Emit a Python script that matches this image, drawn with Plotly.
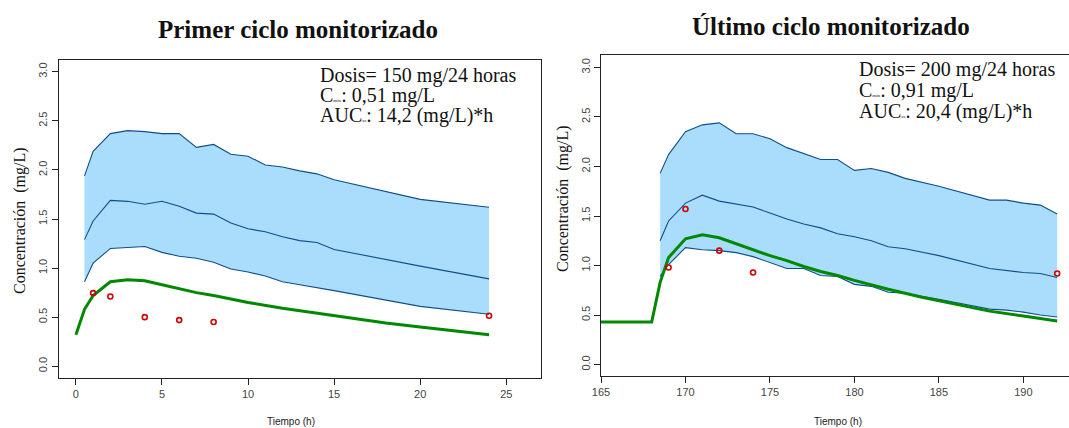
import plotly.graph_objects as go

# ---------------- data: first cycle ----------------
t1_band = [0.5, 1, 2, 3, 4, 5, 6, 7, 8, 9, 10, 11, 12, 13, 14, 15, 20, 24]
p1_upper = [1.94, 2.19, 2.37, 2.40, 2.39, 2.37, 2.37, 2.23, 2.26, 2.16, 2.14, 2.05, 2.03, 1.99, 1.96, 1.90, 1.70, 1.62]
p1_median = [1.29, 1.48, 1.69, 1.68, 1.65, 1.68, 1.63, 1.56, 1.55, 1.46, 1.40, 1.37, 1.32, 1.28, 1.26, 1.19, 1.02, 0.89]
p1_lower = [0.86, 1.05, 1.20, 1.21, 1.22, 1.16, 1.12, 1.10, 1.06, 0.99, 0.96, 0.92, 0.86, 0.83, 0.80, 0.77, 0.61, 0.53]
t1_pred = [0, 0.5, 1, 2, 3, 4, 5, 6, 7, 8, 10, 12, 14, 16, 18, 20, 22, 24]
p1_pred = [0.32, 0.58, 0.72, 0.86, 0.88, 0.87, 0.83, 0.79, 0.75, 0.72, 0.65, 0.59, 0.54, 0.49, 0.44, 0.40, 0.36, 0.32]
t1_obs = [1, 2, 4, 6, 8, 24]
c1_obs = [0.745, 0.71, 0.50, 0.47, 0.45, 0.515]
txt1 = ["Dosis= 150 mg/24 horas", "0,51 mg/L", "14,2 (mg/L)*h"]

# ---------------- data: last cycle ----------------
t2_band = [168.5, 169, 170, 171, 172, 173, 174, 175, 176, 177, 178, 179, 180, 181, 182, 183, 185, 188, 189, 190, 191, 192]
p2_upper = [1.93, 2.12, 2.35, 2.42, 2.44, 2.33, 2.33, 2.28, 2.19, 2.13, 2.07, 2.07, 1.96, 1.98, 1.94, 1.88, 1.80, 1.66, 1.66, 1.63, 1.61, 1.52]
p2_median = [1.25, 1.45, 1.63, 1.71, 1.65, 1.62, 1.59, 1.53, 1.47, 1.42, 1.38, 1.32, 1.29, 1.25, 1.19, 1.17, 1.10, 0.97, 0.95, 0.93, 0.92, 0.88]
p2_lower = [0.89, 1.01, 1.18, 1.16, 1.15, 1.13, 1.09, 1.03, 0.97, 0.97, 0.90, 0.89, 0.81, 0.79, 0.73, 0.72, 0.66, 0.56, 0.55, 0.53, 0.50, 0.48]
t2_pred = [165, 168, 168.5, 169, 170, 171, 172, 173, 174, 175, 176, 177, 178, 179, 180, 182, 184, 186, 188, 190, 192]
p2_pred = [0.43, 0.43, 0.83, 1.08, 1.27, 1.31, 1.28, 1.22, 1.16, 1.10, 1.05, 0.99, 0.94, 0.90, 0.85, 0.76, 0.68, 0.61, 0.54, 0.49, 0.44]
t2_obs = [169, 170, 172, 174, 192]
c2_obs = [0.98, 1.57, 1.15, 0.93, 0.92]
txt2 = ["Dosis= 200 mg/24 horas", "0,91 mg/L", "20,4 (mg/L)*h"]

titles = ["Primer ciclo monitorizado", "Último ciclo monitorizado"]
y_ticks = [0.0, 0.5, 1.0, 1.5, 2.0, 2.5, 3.0]
x1_ticks = [0, 5, 10, 15, 20, 25]
x2_ticks = [165, 170, 175, 180, 185, 190]

FILL = "#a9ddfb"
BLUE = "#104e8b"
GREEN = "#008800"
RED = "#d00000"
SERIF = "Liberation Serif, Times New Roman, serif"
SANS = "Liberation Sans, Arial, sans-serif"
W, H = 1069, 428

fig = go.Figure()


def add_panel(xa, ya, tb, up, med, lo, tp, pp, to, co):
    fig.add_trace(go.Scatter(x=tb, y=lo, mode="lines", line=dict(width=0, color=FILL),
                             showlegend=False, hoverinfo="skip", xaxis=xa, yaxis=ya))
    fig.add_trace(go.Scatter(x=tb, y=up, mode="lines", line=dict(width=0, color=FILL),
                             fill="tonexty", fillcolor=FILL, showlegend=False,
                             hoverinfo="skip", xaxis=xa, yaxis=ya))
    for s in (up, med, lo):
        fig.add_trace(go.Scatter(x=tb, y=s, mode="lines", line=dict(width=1.1, color=BLUE),
                                 showlegend=False, xaxis=xa, yaxis=ya))
    fig.add_trace(go.Scatter(x=tp, y=pp, mode="lines", line=dict(width=3, color=GREEN),
                             showlegend=False, xaxis=xa, yaxis=ya))
    fig.add_trace(go.Scatter(x=to, y=co, mode="markers",
                             marker=dict(symbol="circle-open", size=5, color=RED,
                                         line=dict(width=1.6, color=RED)),
                             showlegend=False, xaxis=xa, yaxis=ya))


add_panel("x", "y", t1_band, p1_upper, p1_median, p1_lower, t1_pred, p1_pred, t1_obs, c1_obs)
add_panel("x2", "y2", t2_band, p2_upper, p2_median, p2_lower, t2_pred, p2_pred, t2_obs, c2_obs)

axcommon = dict(showgrid=False, zeroline=False, showline=True, linecolor="#222", linewidth=1,
                ticks="outside", ticklen=6, tickwidth=1, tickcolor="#222", automargin=False,
                tickfont=dict(family=SANS, size=11, color="#444"))


def px(x):
    return x / W


def py(y):
    return 1 - y / H


fig.update_layout(
    width=W, height=H, margin=dict(l=0, r=0, t=0, b=0, autoexpand=False),
    paper_bgcolor="white", plot_bgcolor="white",
    xaxis=dict(domain=[px(58.7), px(540.7)], range=[-1, 27], tickvals=x1_ticks,
               mirror=True, anchor="y", **axcommon),
    yaxis=dict(domain=[py(378), py(60)], range=[-0.12, 3.12], tickvals=y_ticks,
               ticktext=[f"{v:.1f}" for v in y_ticks], tickangle=-90,
               mirror=True, anchor="x", **axcommon),
    xaxis2=dict(domain=[px(601), 1.0], range=[165, 192.7], tickvals=x2_ticks,
                mirror=True, anchor="y2", **axcommon),
    yaxis2=dict(domain=[py(376), py(55)], range=[-0.115, 3.125], tickvals=y_ticks,
                ticktext=[f"{v:.1f}" for v in y_ticks], tickangle=-90,
                anchor="x2", **axcommon),
)

ann = []


def add_text(text, x, y, font, xanchor="center", textangle=0):
    ann.append(dict(text=text, x=px(x), y=py(y), xref="paper", yref="paper",
                    xanchor=xanchor, yanchor="middle", showarrow=False,
                    textangle=textangle, font=font))


# titles
add_text("<b>" + titles[0] + "</b>", 298, 29, dict(family=SERIF, size=25, color="#111"))
add_text("<b>" + titles[1] + "</b>", 831, 27, dict(family=SERIF, size=25, color="#111"))
# axis titles
for cx, cy in ((20, 221), (563, 199)):
    add_text("Concentración  (mg/L)", cx, cy, dict(family=SERIF, size=16, color="#111"), textangle=-90)
for cx in (291, 838):
    add_text("Tiempo (h)", cx, 421, dict(family=SANS, size=10, color="#222"))
# info text
sub = "<span style='font-size:5px'>{}</span>"
for (x0, y0), txt in (((318, 75), txt1), ((857, 70), txt2)):
    lines = [txt[0],
             "C" + sub.format("min") + ": " + txt[1],
             "AUC" + sub.format("ss") + ": " + txt[2]]
    for i, ln in enumerate(lines):
        add_text(ln, x0, y0 + i * 20.5, dict(family=SERIF, size=20, color="#111"), xanchor="left")
fig.update_layout(annotations=ann)

fig.write_html("out.html", config={"displayModeBar": False},
               post_script="document.body.style.margin='0';document.body.style.overflow='hidden';")
